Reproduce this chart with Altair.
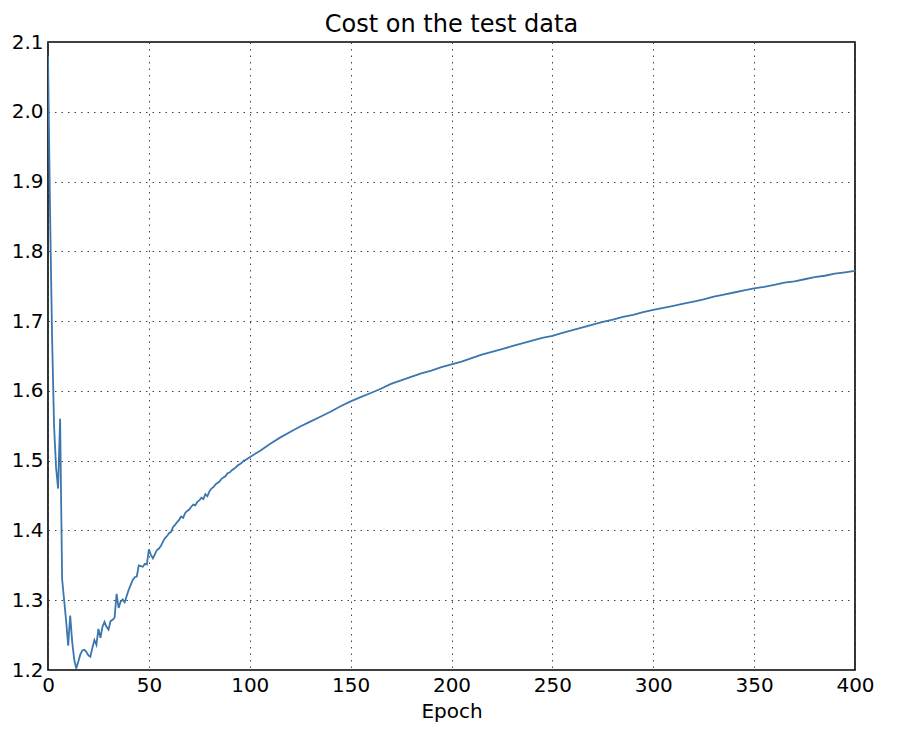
import altair as alt
import pandas as pd

# Epoch positions of the samples
epochs = list(range(0, 101)) + list(range(105, 401, 5))

# Cost values
cost_0_100 = [
    2.080, 1.860, 1.680, 1.550, 1.490, 1.460, 1.560, 1.330, 1.300, 1.270,   # 0-9
    1.235, 1.278, 1.240, 1.215, 1.202, 1.212, 1.222, 1.228, 1.229, 1.226,   # 10-19
    1.221, 1.219, 1.232, 1.243, 1.236, 1.259, 1.246, 1.262, 1.269, 1.262,   # 20-29
    1.258, 1.270, 1.272, 1.275, 1.309, 1.289, 1.298, 1.301, 1.297, 1.306,   # 30-39
    1.315, 1.322, 1.329, 1.333, 1.334, 1.350, 1.349, 1.348, 1.352, 1.351,   # 40-49
    1.373, 1.365, 1.360, 1.366, 1.372, 1.374, 1.378, 1.384, 1.389, 1.392,   # 50-59
    1.396, 1.398, 1.405, 1.408, 1.412, 1.415, 1.420, 1.418, 1.425, 1.428,   # 60-69
    1.430, 1.434, 1.437, 1.436, 1.441, 1.443, 1.447, 1.445, 1.452, 1.449,   # 70-79
    1.456, 1.460, 1.462, 1.466, 1.468, 1.470, 1.474, 1.476, 1.478, 1.482,   # 80-89
    1.483, 1.486, 1.488, 1.490, 1.493, 1.495, 1.497, 1.500, 1.501, 1.503,   # 90-99
    1.505,                                                                  # 100
]
cost_105_400 = [
    1.514, 1.524, 1.533, 1.541, 1.549, 1.556, 1.563, 1.570, 1.578, 1.585,   # 105-150
    1.591, 1.597, 1.603, 1.610, 1.615, 1.620, 1.625, 1.629, 1.634, 1.638,   # 155-200
    1.642, 1.647, 1.652, 1.656, 1.660, 1.664, 1.668, 1.672, 1.676, 1.679,   # 205-250
    1.683, 1.687, 1.691, 1.695, 1.699, 1.702, 1.706, 1.709, 1.713, 1.716,   # 255-300
    1.719, 1.722, 1.725, 1.728, 1.731, 1.735, 1.738, 1.741, 1.744, 1.747,   # 305-350
    1.749, 1.752, 1.755, 1.757, 1.760, 1.763, 1.765, 1.768, 1.770, 1.772,   # 355-400
]
cost = cost_0_100 + cost_105_400

x_ticks = [0, 50, 100, 150, 200, 250, 300, 350, 400]
y_ticks = [1.2, 1.3, 1.4, 1.5, 1.6, 1.7, 1.8, 1.9, 2.0, 2.1]

df = pd.DataFrame({"epoch": epochs, "cost": cost})

FONT = "DejaVu Sans"

line = alt.Chart(df).mark_line(color="#3b76ae", strokeWidth=1.8, clip=True).encode(
    x=alt.X(
        "epoch:Q",
        scale=alt.Scale(domain=[0, 400], nice=False, zero=False),
        axis=alt.Axis(
            values=x_ticks,
            format="d",
            title="Epoch",
            labelFlush=False,
            labelPadding=5,
            tickSize=0,
            titlePadding=6,
            domain=False,
        ),
    ),
    y=alt.Y(
        "cost:Q",
        scale=alt.Scale(domain=[1.2, 2.1], nice=False, zero=False),
        axis=alt.Axis(
            values=y_ticks,
            format=".1f",
            title=None,
            labelFlush=False,
            labelPadding=5,
            tickSize=0,
            domain=False,
        ),
    ),
)

chart = (
    line.properties(
        width=807,
        height=628,
        background="white",
        autosize=alt.AutoSizeParams(type="none"),
        padding={"left": 40, "top": 34, "right": 37, "bottom": 54},
        title=alt.Title("Cost on the test data", fontSize=24, font=FONT,
                        fontWeight="normal", color="black", offset=-5),
    )
    .configure_view(stroke="black", strokeWidth=1.6)
    .configure_axis(
        grid=True,
        gridColor="#444444",
        gridDash=[1.5, 5],
        gridWidth=1,
        labelFont=FONT,
        labelFontSize=20,
        labelColor="black",
        titleFont=FONT,
        titleFontSize=20,
        titleFontWeight="normal",
        titleColor="black",
    )
)

chart.save("out.html", embed_options={"renderer": "svg", "actions": False})
